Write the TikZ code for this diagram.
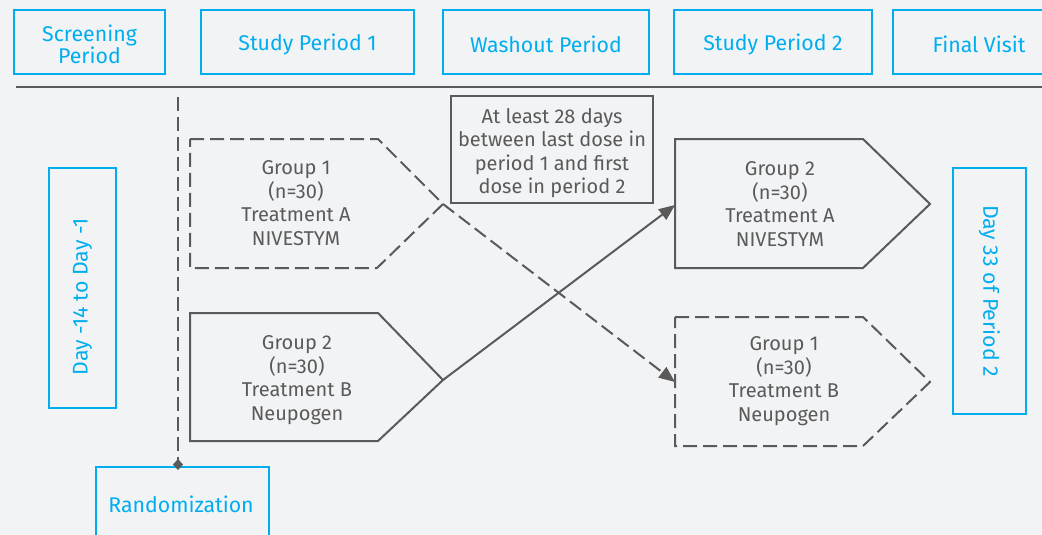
\documentclass[tikz,border=0pt]{standalone}
\usepackage{fontspec}
\setmainfont{Fira Sans}
\usetikzlibrary{arrows.meta}
\definecolor{bg}{HTML}{F2F3F5}
\definecolor{cy}{HTML}{00AEEF}
\definecolor{gl}{HTML}{5A5A5A}
\tikzset{
  hdrfont/.style={font=\fontsize{21.3}{22}\selectfont},
  hdr/.style={draw=cy, line width=2pt, text=cy, hdrfont, align=center, inner sep=0pt},
  shp/.style={draw=gl, line width=2pt, line join=miter},
  dsh/.style={dash pattern=on 14pt off 6pt},
  grp/.style={text=gl, font=\fontsize{20}{23.5}\selectfont, align=center, inner sep=0pt},
  arr/.style={draw=gl, line width=2pt, -{Triangle[length=16pt,width=13pt]}},
}
\begin{document}
\begin{tikzpicture}[x=1pt,y=-1pt]
\fill[bg] (0,0) rectangle (1042,535);
\useasboundingbox (0,0) rectangle (1042,535);
\begin{scope}
\clip (0,0) rectangle (1042,535);
% header boxes
\node[hdr, minimum width=151pt, minimum height=64pt] (scr) at (89.5,42) {};
\node[text=cy, hdrfont, align=center, inner sep=0pt] at (89.5,44) {Screening\\Period};
\node[hdr, minimum width=213pt, minimum height=64pt] (sp1) at (307.5,42) {};
\node[text=cy, hdrfont] at (307.5,44) {Study Period 1};
\node[hdr, minimum width=206pt, minimum height=64pt] (wo) at (546,42) {};
\node[text=cy, hdrfont] at (546,44) {Washout Period};
\node[hdr, minimum width=198pt, minimum height=64pt] (sp2) at (773,42) {};
\node[text=cy, hdrfont] at (773,44) {Study Period 2};
\draw[cy, line width=2pt] (1060,10) -- (893,10) -- (893,74) -- (1060,74);
\node[text=cy, hdrfont] (fv) at (979,44) {Final Visit};
% rule
\draw[gl, line width=2pt] (16,87) -- (1042,87);
% side boxes
\node[hdr, minimum width=67pt, minimum height=240pt] (d14) at (82.5,288) {};
\node[text=cy, hdrfont, rotate=90] at (82.5,297) {Day -14 to Day -1};
\node[hdr, minimum width=73pt, minimum height=246pt] (d33) at (989.5,291) {};
\node[text=cy, hdrfont, rotate=-90] at (d33.center) {Day 33 of Period 2};
% randomization
\draw[cy, line width=2pt] (96,545) -- (96,467) -- (269,467) -- (269,545);
\coordinate (rtop) at (178,467);
\node[text=cy, hdrfont] (rnd) at (181,504) {Randomization};
\coordinate (vtop) at (178,97);
\draw[gl, line width=2pt, dsh, -{Diamond[length=11pt,width=10pt]}] (vtop) -- ([yshift=-3pt]rtop);
% note box
\node[draw=gl, line width=2pt, minimum width=202pt, minimum height=107pt, inner sep=0pt] (note) at (552,149.5) {};
\node[grp] at (552,153) {At least 28 days\\between last dose in\\period 1 and first\\dose in period 2};
% left group 1 (dashed)
\coordinate (g1Ltip) at (443,204);
\draw[shp, dsh] (190,139) -- (378,139) -- (g1Ltip) -- (377,268) -- (190,268) -- cycle;
\node[grp] (g1L) at (296,203) {Group 1\\(n=30)\\Treatment A\\NIVESTYM};
% left group 2 (solid)
\coordinate (g2Ltip) at (443,380);
\draw[shp] (190,313) -- (378,313) -- (g2Ltip) -- (378,441) -- (190,441) -- cycle;
\node[grp] (g2L) at (297,380) {Group 2\\(n=30)\\Treatment B\\Neupogen};
% right group 2 (solid)
\coordinate (g2Rin) at (675,205);
\draw[shp] (675,139) -- (863,139) -- (930,204) -- (863,268) -- (675,268) -- cycle;
\node[grp] (g2R) at (780,204) {Group 2\\(n=30)\\Treatment A\\NIVESTYM};
% right group 1 (dashed)
\coordinate (g1Rin) at (675,382);
\draw[shp, dsh] (675,317) -- (863,317) -- (930,382) -- (863,446) -- (675,446) -- cycle;
\node[grp] (g1R) at (784,381) {Group 1\\(n=30)\\Treatment B\\Neupogen};
% crossing arrows
\draw[arr] (g2Ltip) -- (g2Rin);
\draw[arr, dsh] (g1Ltip) -- (g1Rin);
\end{scope}
\end{tikzpicture}
\end{document}
